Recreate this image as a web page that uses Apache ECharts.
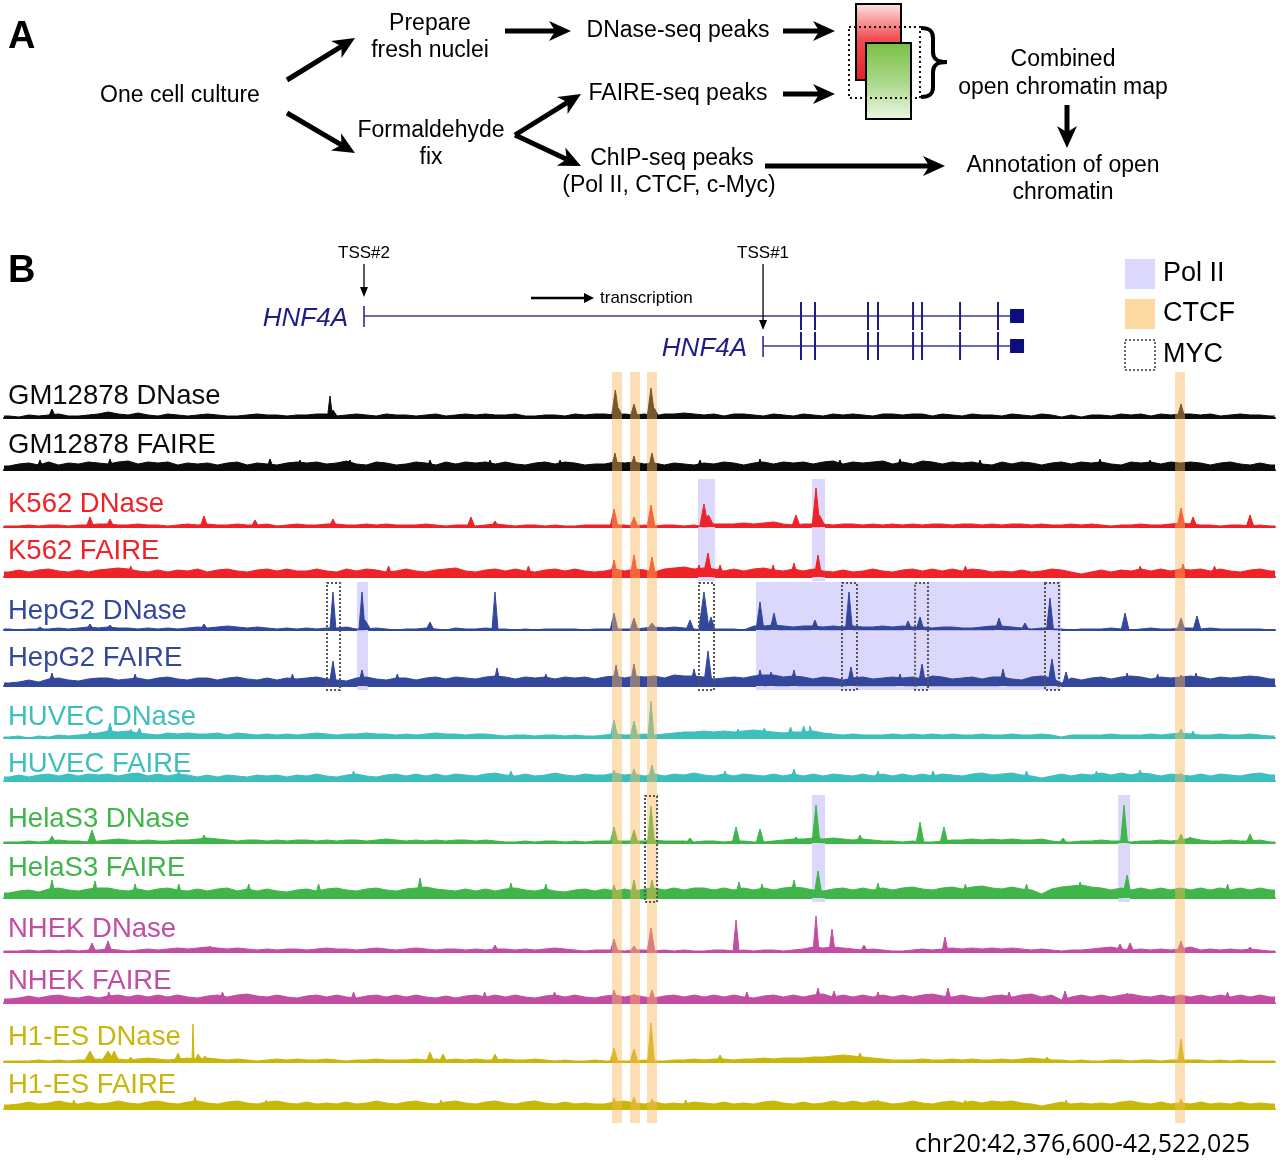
<!DOCTYPE html>
<html>
<head>
<meta charset="utf-8">
<script src="https://cdn.jsdelivr.net/npm/echarts@6.0.0/dist/echarts.min.js"></script>
<style>html,body{margin:0;padding:0;background:#fff;}#chart{width:1280px;height:1164px;}</style>
</head>
<body>
<div id="chart"></div>
<script>
// Region shown: chr20:42,376,600-42,522,025 ; all positions in kb from region start
const REGION_LABEL = 'chr20:42,376,600-42,522,025';
const SPAN_KB = 145.425;

const trackNames = ['GM12878 DNase','GM12878 FAIRE','K562 DNase','K562 FAIRE','HepG2 DNase','HepG2 FAIRE','HUVEC DNase','HUVEC FAIRE','HelaS3 DNase','HelaS3 FAIRE','NHEK DNase','NHEK FAIRE','H1-ES DNase','H1-ES FAIRE'];
const cellLines = ['GM12878','K562','HepG2','HUVEC','HelaS3','NHEK','H1-ES'];
const cellColors = ['#0b0b0b','#ee2327','#33479c','#3dbfbd','#3fb54a','#c24ea3','#c8b70b'];

// ---- background signal (128 equal bins across the region) ----
const bgGM12878DNase = [2,1,3,2,3,4,2,2,3,4, 6,4,3,5,3,2,4,3,2,3, 4,3,2,2,3,4,3,3,2,3, 3,4,4,2,3,4,3,2,4,3, 3,2,3,4,2,3,4,3,4,3, 3,4,2,2,3,3,2,4,3,4, 4,3,4,3,4,2,4,4,5,4, 3,4,2,4,4,3,2,4,3,2, 4,3,2,4,3,4,3,2,4,4, 3,4,4,2,4,3,2,4,3,3, 2,4,3,2,4,3,1,3,1,3, 3,2,4,3,4,2,4,3,4,4, 3,4,2,3,4,3,3,2];
const bgGM12878FAIRE = [4,6,7,5,8,5,7,6,8,7, 6,8,9,6,8,7,8,5,7,6, 7,5,7,8,5,7,6,5,7,8, 7,8,6,7,9,6,5,8,7,5, 6,8,7,5,8,6,8,7,8,6, 8,6,5,7,8,6,8,7,5,6, 6,8,7,8,6,7,5,7,6,5, 7,6,8,7,5,7,8,6,8,7, 8,6,8,9,6,8,7,8,9,6, 8,6,9,8,6,8,7,8,6,5, 8,6,8,7,5,7,8,6,8,7, 8,6,5,8,7,8,6,8,7,8, 7,5,7,8,6,5,7,5];
const bgK562DNase = [1,1,2,1,2,2,1,2,2,3, 3,2,2,3,2,2,1,2,3,2, 3,2,2,3,2,2,3,1,2,3, 2,2,3,3,2,2,3,2,3,2, 2,2,3,2,1,2,2,1,2,3, 2,1,2,2,1,2,1,1,2,2, 2,2,2,1,2,1,2,2,1,2, 0,3,3,3,4,3,4,5,3,2, 3,3,3,2,3,3,2,3,2,3, 2,3,2,3,3,2,3,3,2,3, 2,3,3,2,3,2,2,3,2,3, 2,1,2,2,3,2,2,3,4,3, 2,2,1,2,2,1,2,1];
const bgK562FAIRE = [5,7,5,7,8,6,5,7,5,7, 8,9,8,6,5,7,5,7,6,8, 5,7,8,6,5,7,8,6,8,6, 6,8,6,5,8,6,8,7,5,6, 8,6,5,7,8,9,6,5,7,8, 6,8,6,5,7,8,6,8,6,5, 6,8,6,8,7,5,8,9,10,8, 9,8,6,8,6,8,9,7,6,8, 6,8,6,5,7,5,6,8,6,5, 7,8,6,8,6,8,6,8,7,5, 6,5,7,5,6,8,7,5,3,5, 7,5,7,6,8,6,8,6,8,7, 8,6,8,6,5,7,8,6];
const bgHepG2DNase = [1,0,1,1,1,2,1,2,3,2, 3,2,2,1,2,1,2,1,2,3, 2,3,4,3,2,3,2,1,2,1, 2,1,2,2,3,1,1,2,1,0, 1,1,2,1,0,2,1,1,2,1, 1,0,1,0,1,1,1,1,0,1, 1,1,1,1,2,3,2,3,2,1, 0,1,1,1,0,4,4,5,4,3, 4,4,3,4,3,4,3,3,4,3, 4,3,3,2,3,3,2,2,3,4, 4,3,2,1,2,1,1,0,1,1, 1,2,1,0,1,2,1,1,2,2, 1,2,1,1,1,1,1,0];
const bgHepG2FAIRE = [3,4,6,4,7,8,6,5,7,8, 8,6,7,8,6,8,9,7,6,8, 8,6,8,9,7,6,8,6,8,7, 8,9,7,6,5,8,9,7,6,8, 8,6,8,9,7,9,8,7,9,10, 9,7,9,8,9,7,9,8,9,7, 9,10,8,10,9,10,8,11,10,10, 9,7,8,9,8,10,11,11,9,10, 9,7,9,8,6,8,9,7,8,9, 8,9,7,10,9,7,8,9,7,9, 9,7,6,9,10,8,3,8,6,8, 9,7,9,10,9,7,9,8,9,10, 9,7,9,8,9,10,9,7];
const bgHUVECDNase = [1,2,0,2,1,3,2,3,4,5, 7,6,7,5,4,3,5,4,5,4, 4,5,3,5,4,3,4,3,4,3, 4,5,4,3,4,4,5,4,4,3, 4,3,4,5,4,4,3,4,4,3, 2,3,3,2,3,3,2,3,2,2, 3,4,3,3,4,3,4,5,6,6, 7,6,7,6,7,8,7,6,5,6, 6,7,5,4,3,4,3,3,3,4, 3,4,3,4,3,4,3,3,4,3, 3,4,3,3,4,3,1,3,3,3, 3,4,3,3,3,4,3,4,5,4, 3,3,4,3,3,4,3,2];
const bgHUVECFAIRE = [4,6,4,6,7,5,7,5,7,6, 7,5,7,8,5,7,5,7,6,4, 6,4,6,5,4,6,5,6,4,6, 5,7,5,4,6,7,5,4,6,7, 5,7,5,7,5,7,6,5,7,8, 6,5,7,5,6,8,6,5,7,6, 6,8,6,7,5,7,5,7,6,8, 6,5,7,5,7,6,5,7,5,7, 5,7,5,7,6,5,7,5,7,5, 7,5,7,5,7,6,5,7,8,6, 7,8,6,5,3,5,7,5,7,6, 8,6,8,6,8,7,5,7,6,5, 7,5,7,6,5,7,8,6];
const bgHelaS3DNase = [1,1,2,1,2,3,2,2,1,2, 3,4,3,2,3,2,2,3,3,4, 5,4,3,2,3,3,2,3,2,3, 3,2,3,2,3,3,2,3,4,3, 2,3,2,3,2,3,3,2,3,2, 1,1,2,1,2,2,1,2,1,2, 2,2,2,2,2,3,2,2,2,1, 2,2,1,2,2,1,1,2,3,4, 4,5,4,5,4,3,4,3,2,2, 1,2,1,1,2,3,3,4,3,4, 3,4,3,3,4,2,1,1,2,2, 3,2,2,1,2,2,3,2,3,5, 3,2,2,3,2,2,3,1];
const bgHelaS3FAIRE = [5,7,8,6,9,10,8,7,9,10, 10,8,7,9,7,9,10,8,7,9, 7,9,10,7,9,7,9,7,6,8, 9,7,9,10,8,7,9,10,8,7, 9,10,11,9,8,7,9,7,9,7, 9,10,8,7,9,7,6,8,9,7, 9,7,9,7,9,10,8,10,8,10, 10,8,10,8,10,8,10,8,10,11, 10,8,7,9,10,8,10,8,10,8, 10,11,9,8,10,11,9,11,12,10, 9,11,9,8,4,9,11,12,13,11, 10,8,10,8,10,8,10,8,10,8, 10,8,10,8,10,8,10,8];
const bgNHEKDNase = [1,1,2,1,2,1,2,1,2,2, 3,2,1,2,3,2,3,4,3,4, 5,4,3,4,3,2,3,2,3,3, 2,3,4,3,3,2,3,4,3,2, 3,4,3,2,3,3,2,3,2,3, 3,2,3,2,3,4,3,2,1,2, 2,2,1,2,2,1,2,1,2,1, 1,2,2,1,2,1,2,2,1,2, 3,5,4,5,4,3,2,3,2,1, 1,2,3,2,3,4,3,4,3,4, 3,4,3,2,3,2,1,2,2,3, 4,5,3,2,3,2,3,2,3,5, 2,3,2,3,2,3,2,1];
const bgNHEKFAIRE = [4,5,7,5,7,8,6,5,7,5, 7,8,6,8,6,8,6,8,6,5, 7,8,6,8,9,7,6,8,6,5, 7,8,6,8,6,5,7,8,6,8, 6,8,6,5,7,5,7,8,6,8, 6,8,6,5,7,8,6,8,6,5, 7,8,6,8,6,5,7,8,6,8, 6,8,6,8,6,5,7,8,6,8, 6,8,9,6,8,6,8,6,8,6, 8,6,8,9,7,6,8,6,5,7, 8,6,8,9,6,8,3,6,8,6, 8,6,8,9,7,6,8,6,8,6, 8,6,8,6,8,6,8,6];
const bgH1ESDNase = [1,1,1,2,1,2,1,2,2,3, 2,3,2,3,4,3,2,3,4,3, 4,3,2,3,2,1,2,3,2,3, 2,2,3,2,1,2,2,3,2,2, 2,3,2,3,2,3,2,3,2,2, 3,2,2,3,2,1,2,1,1,2, 1,1,1,1,2,1,1,2,2,3, 2,3,3,2,3,3,4,3,4,4, 4,5,5,6,7,6,5,4,3,2, 2,2,3,2,2,3,2,3,2,2, 3,2,3,4,3,2,2,1,2,1, 1,2,2,1,2,2,1,2,2,2, 2,1,2,1,2,1,1,1];
const bgH1ESFAIRE = [4,5,7,5,6,8,6,5,7,5, 6,8,6,5,7,8,6,5,7,8, 6,5,7,8,6,5,7,8,6,5, 7,5,6,5,7,5,6,8,6,5, 7,8,6,5,7,8,6,5,7,8, 6,5,7,8,6,5,7,5,6,5, 5,7,8,6,5,7,5,6,5,7, 6,5,7,5,6,5,7,8,6,5, 7,5,6,8,6,8,6,8,7,5, 6,8,6,5,7,8,6,8,6,8, 7,8,6,5,3,5,7,5,6,5, 6,5,7,8,6,5,7,5,6,5, 7,5,6,5,7,5,6,5];

// ---- peaks: [position kb, height, optional half-width kb] ----
const pkGM12878DNase = [[5.49,9],[12.13,6],[37.30,22,0.3],[37.64,8,0.6],[69.95,28],[70.30,10,0.6],[72.08,14],[74.03,30],[74.40,10,0.6],[134.67,14]];
const pkGM12878FAIRE = [[4.12,10],[12.13,11],[30.44,11],[33.87,10],[39.59,10],[48.74,10],[55.61,10],[63.62,10],[69.90,17],[72.08,14],[74.14,17],[79.64,10],[86.50,11],[95.65,10],[102.52,11],[111.67,10],[125.40,11],[131.12,10]];
const pkK562DNase = [[9.84,10],[12.13,8],[22.88,11],[28.72,7],[37.64,8],[53.43,10],[56.18,6],[69.80,18],[72.08,10],[74.03,22],[80.09,23,0.5],[80.60,12,0.7],[90.62,12,0.5],[92.91,39],[93.30,12,0.7],[134.67,19],[136.05,10],[142.57,12]];
const pkK562FAIRE = [[14.50,11],[44.00,11],[60.00,11],[69.80,17],[72.08,22],[74.14,20],[79.52,12],[80.55,24,0.5],[81.93,12],[88.00,12],[90.39,14],[93.14,22],[110.00,11],[130.00,11],[134.90,13],[138.50,11]];
const pkHepG2DNase = [[4.12,3],[9.84,6],[12.13,5],[22.88,6],[37.64,38,0.35],[40.96,38,0.35],[41.30,10,0.7],[48.74,8],[56.18,38,0.35],[69.80,17],[72.08,12],[74.14,7,0.6],[78.49,10],[80.09,38,0.6],[80.90,13],[86.50,28],[88.10,17],[92.79,10],[96.68,38,0.4],[103.44,9],[104.81,13],[113.85,12],[116.82,7],[119.68,32,0.4],[128.27,17],[134.67,12],[136.50,14]];
const pkHepG2FAIRE = [[5.49,13],[15.00,12],[33.00,12],[37.64,25],[40.96,16],[45.00,12],[56.41,18],[62.00,12],[70.03,21],[72.08,22],[74.14,10],[78.95,17],[80.55,35,0.5],[86.50,16],[87.76,14],[90.39,16],[96.91,19],[102.52,12],[105.04,22],[114.31,17],[119.91,27,0.5],[121.52,14],[128.50,13],[132.00,12],[134.67,11],[136.39,13]];
const pkHUVECDNase = [[9.84,7],[12.13,15],[14.50,9],[15.50,10],[69.80,18],[72.08,17],[74.03,37,0.35],[84.00,9],[87.00,10],[90.00,11],[91.50,12],[92.22,12],[134.67,9],[136.05,7]];
const pkHUVECFAIRE = [[20.00,10],[40.00,10],[58.00,10],[69.80,11],[72.08,12],[74.14,16],[82.50,10],[90.39,12],[100.00,10],[106.30,10],[117.00,10],[125.00,10],[129.98,11],[134.67,8]];
const pkHelaS3DNase = [[5.49,7],[10.07,13,0.5],[22.88,8],[69.80,16],[72.08,13],[74.03,37,0.4],[78.49,5],[83.76,16],[86.50,14],[90.62,6],[92.91,38,0.45],[97.94,8],[104.81,21],[107.55,16],[121.17,5],[128.15,38,0.4],[134.67,9],[135.70,6],[142.57,9]];
const pkHelaS3FAIRE = [[5.49,18],[10.41,17],[15.00,14],[20.00,14],[28.00,14],[36.00,14],[47.60,20],[58.00,15],[62.00,14],[69.80,13],[72.08,18],[74.14,18],[84.10,16],[86.73,14],[90.39,18],[93.14,27,0.5],[100.00,15],[110.00,14],[117.00,14],[123.12,16],[128.50,23,0.55],[140.00,14]];
const pkNHEKDNase = [[10.07,9],[11.90,11],[23.57,6],[56.18,7],[69.80,13],[72.08,6],[74.03,24],[83.76,32,0.35],[92.91,36,0.35],[94.74,23,0.35],[98.40,7],[107.67,15,0.35],[127.69,8],[128.84,9],[134.67,11],[142.57,5]];
const pkNHEKFAIRE = [[12.00,11],[25.00,11],[40.00,11],[55.00,11],[63.00,11],[69.80,13],[72.08,9],[74.14,13],[85.00,11],[93.14,15],[94.97,12],[100.00,11],[108.01,15],[115.00,11],[121.40,12],[128.50,10],[134.67,8],[140.00,11]];
const pkH1ESDNase = [[9.84,11,0.7],[11.90,11,0.8],[12.60,11,0.6],[14.50,5],[19.91,9],[21.63,38,0.12],[22.20,8,0.6],[23.00,6],[48.74,10],[50.23,8],[56.18,8],[69.80,14],[72.08,13],[74.03,39,0.4],[81.93,7],[97.94,9],[119.34,5],[134.67,23,0.35]];
const pkH1ESFAIRE = [[8.00,9],[21.85,12],[30.00,9],[50.00,9],[69.80,11],[72.08,12],[74.14,10],[78.00,9],[100.00,9],[110.00,9],[121.52,9],[134.67,10]];

const bgSignals = [bgGM12878DNase,bgGM12878FAIRE,bgK562DNase,bgK562FAIRE,bgHepG2DNase,bgHepG2FAIRE,bgHUVECDNase,bgHUVECFAIRE,bgHelaS3DNase,bgHelaS3FAIRE,bgNHEKDNase,bgNHEKFAIRE,bgH1ESDNase,bgH1ESFAIRE];
const peakSignals = [pkGM12878DNase,pkGM12878FAIRE,pkK562DNase,pkK562FAIRE,pkHepG2DNase,pkHepG2FAIRE,pkHUVECDNase,pkHUVECFAIRE,pkHelaS3DNase,pkHelaS3FAIRE,pkNHEKDNase,pkNHEKFAIRE,pkH1ESDNase,pkH1ESFAIRE];

// ---- annotation sites (kb) ----
const ctcfSites = [[69.57,70.71],[71.63,72.77],[73.57,74.72],[133.99,135.13]];
const polIISites = [['K562',79.41,81.35],['K562',92.45,93.94],['HepG2',40.39,41.65],['HepG2',86.04,120.94],['HelaS3',92.45,93.94],['HelaS3',127.47,128.84]];
const mycSites = [['HepG2',36.96,38.45],['HepG2',79.52,81.24],['HepG2',95.88,97.60],['HepG2',104.24,105.72],['HepG2',119.11,120.71],['HelaS3',73.34,74.72]];

// ---- gene model (kb) ----
const transcripts = [{name:'HNF4A', start:41.19, tss:'TSS#2'},{name:'HNF4A', start:86.85, tss:'TSS#1'}];
const exons = [91.19,92.79,98.86,100.00,104.01,105.04,109.39,113.73];
const utrBlock = [115.11,116.71];
const transcriptionArrow = [60.30,67.51];

// ---- layout ----
const trackBaseY = [418,470,527,577,630,686,738,781,843,898,952,1003,1062,1109];
const trackLabelY = [396,445,504,551,611,658,717,764,819,868,929,981,1037,1085];
const TRACK_H = 44;
const GENE_TOP = 240, GENE_H = 130;
const geneRowY = [76,106];
const tssArrowEnd = [57,90];
const OV_TOP = 372, OV_H = 751;
const FONT = '"Liberation Sans", Arial, Helvetica, sans-serif';

const grids=[], xAxes=[], yAxes=[], series=[];
function bgData(vals){
  const step = SPAN_KB/vals.length;
  const d=[[0,vals[0]]];
  vals.forEach((v,k)=>d.push([(k+0.5)*step,v]));
  d.push([SPAN_KB,vals[vals.length-1]]);
  return d;
}
function peakData(peaks){
  const d=[];
  peaks.slice().sort((a,b)=>a[0]-b[0]).forEach(p=>{
    const w=p[2]||0.45;
    d.push([p[0]-w,0],[p[0],p[1]],[p[0]+w,0]);
  });
  return d;
}
function lineSeries(i,data,color){
  return {type:'line',xAxisIndex:i,yAxisIndex:i,data,symbol:'none',smooth:false,animation:false,silent:true,
    lineStyle:{color,width:1},areaStyle:{color,opacity:1},z:2};
}
trackNames.forEach((name,i)=>{
  const color = cellColors[Math.floor(i/2)];
  grids.push({left:4,right:5,top:trackBaseY[i]-TRACK_H,height:TRACK_H});
  xAxes.push({gridIndex:i,type:'value',min:0,max:SPAN_KB,axisLine:{show:true,onZero:false,lineStyle:{color,width:2}},axisTick:{show:false},axisLabel:{show:false},splitLine:{show:false}});
  yAxes.push({gridIndex:i,type:'value',min:0,max:TRACK_H,show:false,splitLine:{show:false}});
  series.push(lineSeries(i,bgData(bgSignals[i]),color));
  series.push(lineSeries(i,peakData(peakSignals[i]),color));
});
const GI = trackNames.length;
grids.push({left:4,right:5,top:GENE_TOP,height:GENE_H});
xAxes.push({gridIndex:GI,type:'value',min:0,max:SPAN_KB,show:false});
yAxes.push({gridIndex:GI,type:'value',min:0,max:GENE_H,inverse:true,show:false});
const OI = GI+1;
grids.push({left:4,right:5,top:OV_TOP,height:OV_H});
xAxes.push({gridIndex:OI,type:'value',min:0,max:SPAN_KB,show:false});
yAxes.push({gridIndex:OI,type:'value',min:0,max:OV_H,inverse:true,show:false});

const GENE_COLOR='#1d1d86';
series.push({type:'custom',xAxisIndex:GI,yAxisIndex:GI,animation:false,silent:true,z:4,
  data:transcripts.map((t,k)=>[t.start,utrBlock[1],geneRowY[k]]),
  encode:{x:[0,1],y:2},
  renderItem:function(params,api){
    const k=params.dataIndex, t=transcripts[k], y=geneRowY[k];
    const c=(x,yy)=>api.coord([x,yy]);
    const s=c(t.start,y), e=c(utrBlock[0],y), b=c(utrBlock[1],y);
    const ch=[];
    ch.push({type:'line',shape:{x1:s[0],y1:s[1],x2:e[0],y2:e[1]},style:{stroke:'#3a3a9a',lineWidth:1.6}});
    ch.push({type:'line',shape:{x1:s[0],y1:s[1]-10,x2:s[0],y2:s[1]+11},style:{stroke:GENE_COLOR,lineWidth:1.5}});
    exons.forEach(x=>{const p=c(x,y);ch.push({type:'line',shape:{x1:p[0],y1:p[1]-14,x2:p[0],y2:p[1]+14},style:{stroke:GENE_COLOR,lineWidth:2}});});
    ch.push({type:'rect',shape:{x:e[0],y:e[1]-7,width:b[0]-e[0],height:14},style:{fill:'#0d0d80'}});
    ch.push({type:'text',style:{text:t.name,x:s[0]-16,y:s[1]+3,textAlign:'right',align:'right',textVerticalAlign:'middle',verticalAlign:'middle',font:'italic 26px '+FONT,fill:GENE_COLOR}});
    const a0=c(t.start,24), a1=c(t.start,tssArrowEnd[k]);
    ch.push({type:'line',shape:{x1:a0[0],y1:a0[1],x2:a1[0],y2:a1[1]-8},style:{stroke:'#000',lineWidth:1.3}});
    ch.push({type:'polygon',shape:{points:[[a1[0]-4,a1[1]-10],[a1[0]+4,a1[1]-10],[a1[0],a1[1]]]},style:{fill:'#000'}});
    const lp=c(t.start,13);
    ch.push({type:'text',style:{text:t.tss,x:lp[0],y:lp[1],textAlign:'center',align:'center',textVerticalAlign:'middle',verticalAlign:'middle',font:'17px '+FONT,fill:'#000'}});
    if(k===0){
      const t0=c(transcriptionArrow[0],58), t1=c(transcriptionArrow[1],58);
      ch.push({type:'line',shape:{x1:t0[0],y1:t0[1],x2:t1[0]-8,y2:t1[1]},style:{stroke:'#000',lineWidth:2.5}});
      ch.push({type:'polygon',shape:{points:[[t1[0],t1[1]],[t1[0]-10,t1[1]-5],[t1[0]-10,t1[1]+5]]},style:{fill:'#000'}});
      ch.push({type:'text',style:{text:'transcription',x:t1[0]+6,y:t1[1],textAlign:'left',align:'left',textVerticalAlign:'middle',verticalAlign:'middle',font:'17px '+FONT,fill:'#000'}});
    }
    return {type:'group',children:ch};
  }
});

function pairTop(cell){return trackBaseY[2*cellLines.indexOf(cell)]-48-OV_TOP;}
function pairBottom(cell){return trackBaseY[2*cellLines.indexOf(cell)+1]+4-OV_TOP;}
function bandRender(style){
  return function(params,api){
    const p0=api.coord([api.value(0),api.value(2)]), p1=api.coord([api.value(1),api.value(3)]);
    return {type:'rect',shape:{x:p0[0],y:p0[1],width:p1[0]-p0[0],height:p1[1]-p0[1]},style:Object.assign({},style)};
  };
}
series.push({type:'custom',xAxisIndex:OI,yAxisIndex:OI,animation:false,silent:true,z:1,clip:false,
  data:polIISites.map(s=>[s[1],s[2],pairTop(s[0]),pairBottom(s[0])]),encode:{x:[0,1],y:[2,3]},
  renderItem:bandRender({fill:'#dcd8fb'})});
series.push({type:'custom',xAxisIndex:OI,yAxisIndex:OI,animation:false,silent:true,z:5,clip:false,
  data:ctcfSites.map(s=>[s[0],s[1],trackBaseY[0]-46-OV_TOP,trackBaseY[13]+14-OV_TOP]),encode:{x:[0,1],y:[2,3]},
  renderItem:bandRender({fill:'rgba(250,185,90,0.45)'})});
series.push({type:'custom',xAxisIndex:OI,yAxisIndex:OI,animation:false,silent:true,z:6,clip:false,
  data:mycSites.map(s=>[s[1],s[2],pairTop(s[0])+1,pairBottom(s[0])]),encode:{x:[0,1],y:[2,3]},
  renderItem:bandRender({fill:'none',stroke:'#555',lineWidth:2,lineDash:[2,2]})});

// ---- graphic: panel A diagram, labels, legend ----
function txt(text,x,y,size,opts){
  opts=opts||{};
  return {type:'text',z:20,style:{text,x,y,font:(opts.weight||'')+' '+size+'px '+(opts.family||FONT),fill:opts.fill||'#000',
    textAlign:opts.align||'center',align:opts.align||'center',textVerticalAlign:'middle',verticalAlign:'middle'}};
}
function arrow(x1,y1,x2,y2,lw,hl,hw){
  const a=Math.atan2(y2-y1,x2-x1), cx=Math.cos(a), sy=Math.sin(a);
  const bx=x2-hl*cx, by=y2-hl*sy, nx=-sy, ny=cx;
  const notchX=x2-hl*0.72*cx, notchY=y2-hl*0.72*sy;
  return [
    {type:'line',z:20,shape:{x1,y1,x2:notchX,y2:notchY},style:{stroke:'#000',lineWidth:lw}},
    {type:'polygon',z:21,shape:{points:[[x2,y2],[bx+nx*hw/2,by+ny*hw/2],[notchX,notchY],[bx-nx*hw/2,by-ny*hw/2]]},style:{fill:'#000'}}
  ];
}
const G=[];
G.push(txt('A',8,38,38,{weight:'bold',align:'left'}));
G.push(txt('B',8,272,38,{weight:'bold',align:'left'}));
G.push(txt('One cell culture',180,96,23));
G.push(txt('Prepare',430,24,23));
G.push(txt('fresh nuclei',430,51,23));
G.push(txt('Formaldehyde',431,131,23));
G.push(txt('fix',431,158,23));
G.push(txt('DNase-seq peaks',678,31,23));
G.push(txt('FAIRE-seq peaks',678,94,23));
G.push(txt('ChIP-seq peaks',672,159,23));
G.push(txt('(Pol II, CTCF, c-Myc)',669,186,23));
G.push(txt('Combined',1063,60,23));
G.push(txt('open chromatin map',1063,88,23));
G.push(txt('Annotation of open',1063,166,23));
G.push(txt('chromatin',1063,193,23));
[[287,80,355,38],[287,113,355,153],[505,31,571,31],[783,31,835,31],[515,135,581,94],[515,135,581,166],[783,94,835,94],[765,166,945,166],[1067,105,1067,148]]
  .forEach(a=>arrow(a[0],a[1],a[2],a[3],5,22,20).forEach(e=>G.push(e)));
G.push({type:'rect',z:20,shape:{x:856,y:4,width:45,height:76},style:{stroke:'#000',lineWidth:2,
  fill:new echarts.graphic.LinearGradient(0,0,0,1,[{offset:0,color:'#fde6e6'},{offset:0.45,color:'#f25054'},{offset:1,color:'#e31e26'}])}});
G.push({type:'rect',z:21,shape:{x:866,y:43,width:45,height:76},style:{stroke:'#000',lineWidth:2,
  fill:new echarts.graphic.LinearGradient(0,0,0,1,[{offset:0,color:'#79bf44'},{offset:0.5,color:'#a9d786'},{offset:1,color:'#eef7e6'}])}});
G.push({type:'rect',z:22,shape:{x:849,y:27,width:71,height:71},style:{stroke:'#111',lineWidth:2,lineDash:[2,3],fill:null}});
const braceStyle={stroke:'#000',lineWidth:4,fill:null};
G.push({type:'bezierCurve',z:22,shape:{x1:921,y1:28,cpx1:930,cpy1:28,cpx2:933,cpy2:31,x2:933,y2:38},style:braceStyle});
G.push({type:'line',z:22,shape:{x1:933,y1:38,x2:933,y2:52},style:braceStyle});
G.push({type:'bezierCurve',z:22,shape:{x1:933,y1:52,cpx1:933,cpy1:59,cpx2:937,cpy2:62,x2:947,y2:62},style:braceStyle});
G.push({type:'bezierCurve',z:22,shape:{x1:947,y1:62,cpx1:937,cpy1:62,cpx2:933,cpy2:65,x2:933,y2:72},style:braceStyle});
G.push({type:'line',z:22,shape:{x1:933,y1:72,x2:933,y2:87},style:braceStyle});
G.push({type:'bezierCurve',z:22,shape:{x1:933,y1:87,cpx1:933,cpy1:94,cpx2:930,cpy2:97,x2:921,y2:97},style:braceStyle});
trackNames.forEach((n,i)=>G.push(txt(n,8,trackLabelY[i],27.5,{align:'left',fill:cellColors[Math.floor(i/2)]})));
G.push({type:'rect',z:20,shape:{x:1125,y:259,width:30,height:30},style:{fill:'#dcd8fb'}});
G.push({type:'rect',z:20,shape:{x:1125,y:299,width:30,height:30},style:{fill:'#fdd9a2'}});
G.push({type:'rect',z:20,shape:{x:1125,y:340,width:30,height:30},style:{fill:null,stroke:'#666',lineWidth:2,lineDash:[2,2]}});
G.push(txt('Pol II',1163,274,27,{align:'left'}));
G.push(txt('CTCF',1163,314,27,{align:'left'}));
G.push(txt('MYC',1163,355,27,{align:'left'}));
G.push(txt(REGION_LABEL,1250,1145,25,{align:'right',family:'"Open Sans", "DejaVu Sans", sans-serif'}));

const chart = echarts.init(document.getElementById('chart'),null,{renderer:'canvas'});
chart.setOption({animation:false,backgroundColor:'#fff',grid:grids,xAxis:xAxes,yAxis:yAxes,series:series,graphic:{elements:G}});
</script>
</body>
</html>
